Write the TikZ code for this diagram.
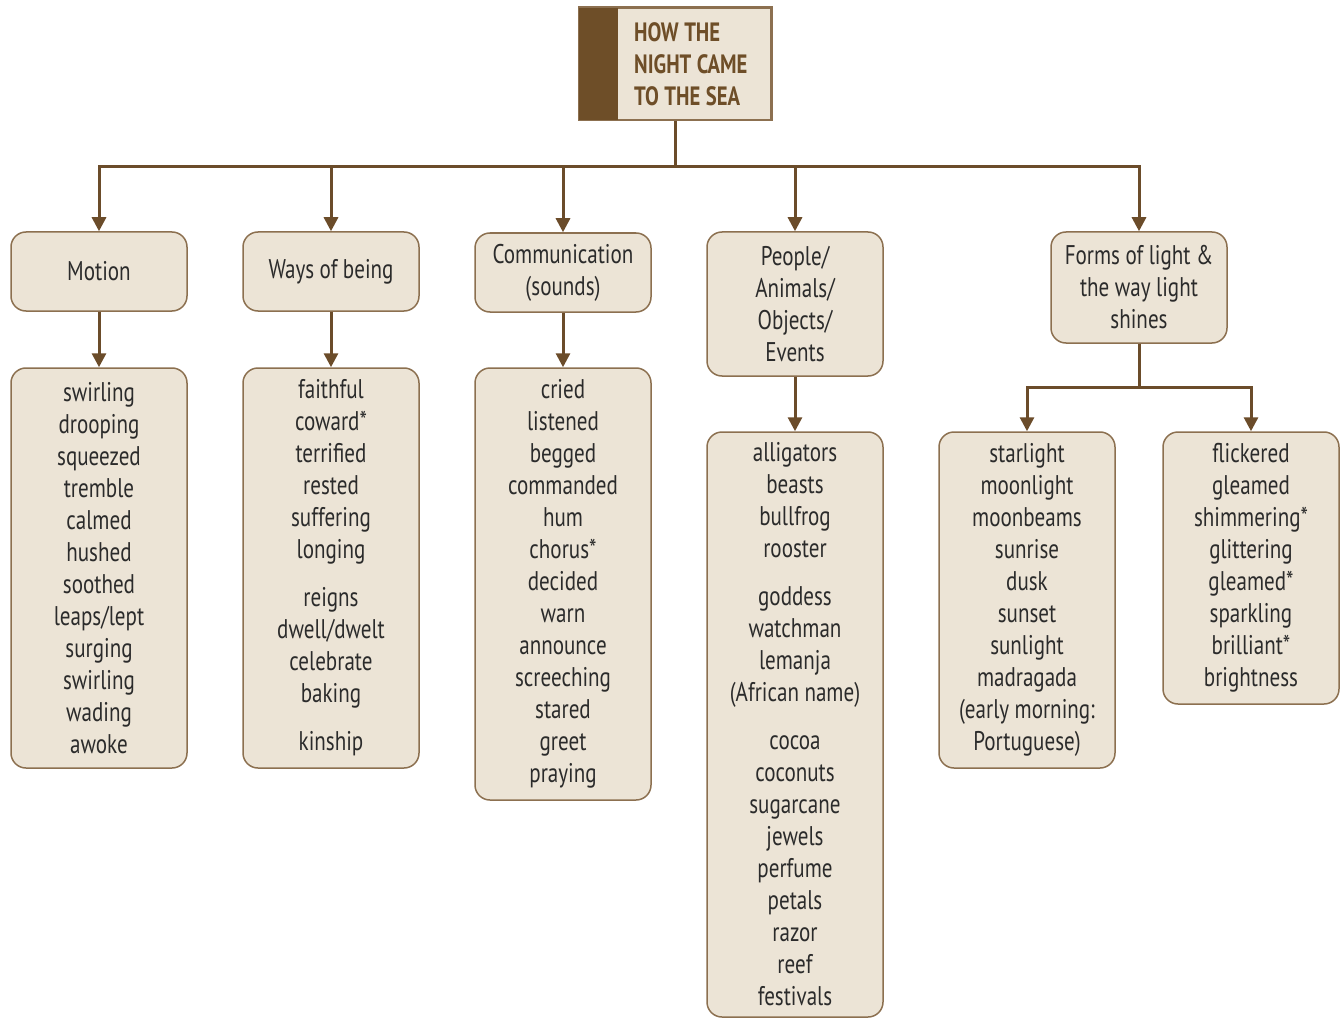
\documentclass[tikz,border=0pt]{standalone}
\usepackage{fontspec}
\setmainfont{PT Sans}[FakeStretch=0.78]
\usetikzlibrary{arrows.meta}
\definecolor{boxfill}{HTML}{ECE4D6}
\definecolor{boxline}{HTML}{8C7050}
\definecolor{conn}{HTML}{6B4C2A}
\definecolor{dark}{HTML}{6E4E28}
\definecolor{txt}{HTML}{2B2B2B}
\newcommand\myboxfont{\fontsize{27}{32}\selectfont}
\newcommand\mytitlefont{\fontsize{26.5}{32}\selectfont\bfseries}
\newcommand\ws{\hspace{5.5pt}}
\begin{document}
\begin{tikzpicture}[x=1pt,y=-1pt,
  box/.style={draw=boxline, line width=1.5pt, fill=boxfill, rounded corners=15pt,
    minimum width=176pt, text width=170pt, align=center, inner sep=0pt, text=txt,
    font=\myboxfont},
  link/.style={draw=conn, line width=3pt},
  arr/.style={link, -{Triangle[width=14pt,length=14pt]}}]
\useasboundingbox (0,0) rectangle (1341,1019);

% title
\node[draw=boxline, line width=1.5pt, fill=boxfill, minimum width=192pt, minimum height=112pt, inner sep=0pt] (title) at (675,64) {};
\fill[dark] (title.north west) rectangle (618,120);
\draw[boxline, line width=1.5pt] (title.north west) rectangle (title.south east);
\node[anchor=west, align=left, inner sep=0pt, text=dark, font=\mytitlefont] (titletext) at (634,64) {HOW\ws THE\\NIGHT\ws CAME\\TO\ws THE\ws SEA};

% categories
\node[box, minimum height=79pt] (motion) at (99,271.5) {Motion};
\node[box, minimum height=79pt] (ways) at (331,271.5) {Ways\ws of\ws being};
\node[box, minimum height=79pt] (comm) at (563,272.5) {Communication\\(sounds)};
\node[box, minimum height=144pt] (people) at (795,304) {People/\\Animals/\\Objects/\\Events};
\node[box, minimum height=111pt] (light) at (1139,287.5) {Forms\ws of\ws light\ws\&\\the\ws way\ws light\\shines};

% word lists
\node[box, minimum height=400pt] (motionlist) at (99,568) {swirling\\drooping\\squeezed\\tremble\\calmed\\hushed\\soothed\\leaps/lept\\surging\\swirling\\wading\\awoke};
\node[box, minimum height=400pt] (wayslist) at (331,568) {faithful\\coward*\\terrified\\rested\\suffering\\longing\\[16pt]reigns\\dwell/dwelt\\celebrate\\baking\\[16pt]kinship};
\node[box, minimum height=432pt] (commlist) at (563,584) {cried\\listened\\begged\\commanded\\hum\\chorus*\\decided\\warn\\announce\\screeching\\stared\\greet\\praying};
\node[box, minimum height=585pt] (peoplelist) at (795,724.5) {alligators\\beasts\\bullfrog\\rooster\\[16pt]goddess\\watchman\\lemanja\\(African\ws name)\\[16pt]cocoa\\coconuts\\sugarcane\\jewels\\perfume\\petals\\razor\\reef\\festivals};
\node[box, minimum height=336pt] (lightlist) at (1027,600) {starlight\\moonlight\\moonbeams\\sunrise\\dusk\\sunset\\sunlight\\madragada\\(early\ws morning:\\Portuguese)};
\node[box, minimum height=272pt] (shinelist) at (1251,568) {flickered\\gleamed\\shimmering*\\glittering\\gleamed*\\sparkling\\brilliant*\\brightness};

% connectors
\coordinate (hub) at (675,167);
\coordinate (hub2) at (1139,387);
\draw[link] (title.south) -- (hub);
\draw[arr] (hub) -| (motion.north);
\draw[arr] (hub) -| (ways.north);
\draw[arr] (hub) -| (comm.north);
\draw[arr] (hub) -| (people.north);
\draw[arr] (hub) -| (light.north);
\draw[arr] (motion.south) -- (motionlist.north);
\draw[arr] (ways.south) -- (wayslist.north);
\draw[arr] (comm.south) -- (commlist.north);
\draw[arr] (people.south) -- (peoplelist.north);
\draw[link] (light.south) -- (hub2);
\draw[arr] (hub2) -| (lightlist.north);
\draw[arr] (hub2) -| (shinelist.north);
\end{tikzpicture}
\end{document}
